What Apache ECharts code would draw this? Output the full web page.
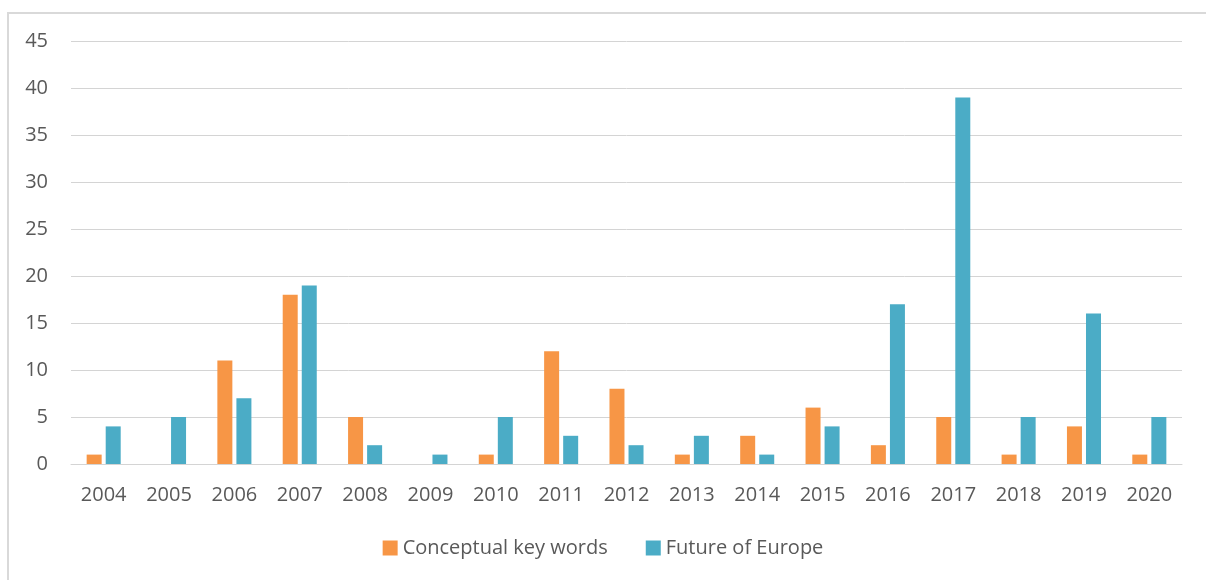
<!DOCTYPE html>
<html>
<head>
<meta charset="utf-8">
<script src="https://cdn.jsdelivr.net/npm/echarts@6/dist/echarts.min.js"></script>
<style>
  html, body { margin: 0; padding: 0; background: #fff; }
  #frame { position: absolute; left: 7px; top: 12px; width: 1210px; height: 600px;
           border-top: 2px solid #d9d9d9; border-left: 2px solid #d9d9d9; }
  #chart { position: absolute; left: 0; top: 0; width: 1206px; height: 580px; }
</style>
</head>
<body>
<div id="frame"></div>
<div id="chart"></div>
<script>
// Publications per year
const years = ['2004', '2005', '2006', '2007', '2008', '2009', '2010', '2011', '2012',
  '2013', '2014', '2015', '2016', '2017', '2018', '2019', '2020'];
const conceptual = [1, 0, 11, 18, 5, 0, 1, 12, 8, 1, 3, 6, 2, 5, 1, 4, 1];
const futureEurope = [4, 5, 7, 19, 2, 1, 5, 3, 2, 3, 1, 4, 17, 39, 5, 16, 5];

const colors = {
  orange: '#F79646',
  blue: '#4BACC6',
  text: '#595959',
  grid: '#d4d4d4'
};
const font = '"Open Sans", "DejaVu Sans", sans-serif';

const chart = echarts.init(document.getElementById('chart'));
chart.setOption({
  animation: false,
  textStyle: { fontFamily: font },
  grid: { left: 71, right: 24, top: 41, bottom: 116, containLabel: false },
  legend: {
    bottom: 17,
    left: 'center',
    itemWidth: 15,
    itemHeight: 15,
    itemGap: 38,
    icon: 'rect',
    textStyle: { color: colors.text, fontSize: 20, fontFamily: font },
    data: ['Conceptual key words', 'Future of Europe']
  },
  xAxis: {
    type: 'category',
    data: years,
    axisLine: { lineStyle: { color: colors.grid, width: 1 } },
    axisTick: { show: false },
    axisLabel: { color: colors.text, fontSize: 20, margin: 21 }
  },
  yAxis: {
    type: 'value',
    min: 0,
    max: 45,
    interval: 5,
    axisLine: { show: false },
    axisTick: { show: false },
    axisLabel: { color: colors.text, fontSize: 20, margin: 23 },
    splitLine: { lineStyle: { color: colors.grid, width: 1 } }
  },
  series: [
    {
      name: 'Conceptual key words',
      type: 'bar',
      data: conceptual,
      barWidth: 15,
      barGap: '27%',
      itemStyle: { color: colors.orange }
    },
    {
      name: 'Future of Europe',
      type: 'bar',
      data: futureEurope,
      barWidth: 15,
      itemStyle: { color: colors.blue }
    }
  ]
});
</script>
</body>
</html>
